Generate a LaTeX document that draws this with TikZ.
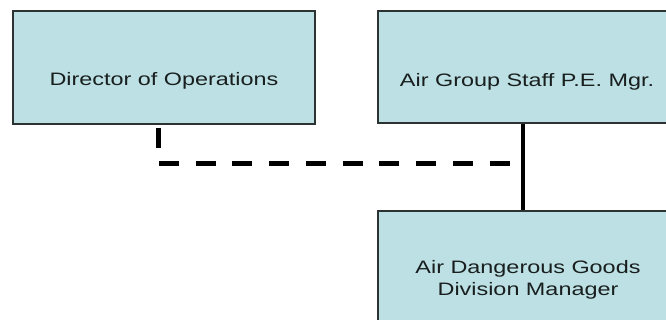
\documentclass[tikz,border=0pt]{standalone}
\usepackage{fontspec}
\newfontfamily\boxfont[FakeStretch=1.3]{Liberation Sans}
\definecolor{boxfill}{RGB}{188,224,227}
\definecolor{boxline}{RGB}{45,50,50}
\definecolor{txtcol}{RGB}{25,30,30}
\tikzset{
  orgbox/.style={draw=boxline, line width=1.3pt, fill=boxfill, rectangle, inner sep=0pt},
  boxtext/.style={font=\boxfont\fontsize{18pt}{22pt}\selectfont, text=txtcol, align=center, anchor=base, inner sep=0pt},
  solidlink/.style={line width=4.8pt, black},
  dashlink/.style={line width=5pt, black, dash pattern=on 20pt off 16.75pt, dash phase=33.75pt}
}
\begin{document}
\begin{tikzpicture}[x=1pt,y=-1pt]
\useasboundingbox (0,0) rectangle (666,320);
\clip (0,0) rectangle (666,320);
\fill[white] (0,0) rectangle (666,320);
\node[orgbox, minimum width=302pt, minimum height=113pt] (dir) at (164,67.5) {};
\node[orgbox, minimum width=314pt, minimum height=112pt] (agm) at (535,67) {};
\node[orgbox, minimum width=314pt, minimum height=112pt] (adg) at (535,267) {};
\node[boxtext] (dirt) at (164,86) {Director of Operations};
\node[boxtext] (agmt) at (527,87) {Air Group Staff P.E. Mgr.};
\node[boxtext, anchor=north] (adgt) at (528,260) {Air Dangerous Goods\\Division Manager};
\coordinate (j) at (523,163.5);
\draw[solidlink] ([xshift=-12pt]agm.south) -- ([xshift=-12pt]adg.north);
\draw[dashlink] ([xshift=-6pt]dir.south) |- (j);
\end{tikzpicture}
\end{document}
